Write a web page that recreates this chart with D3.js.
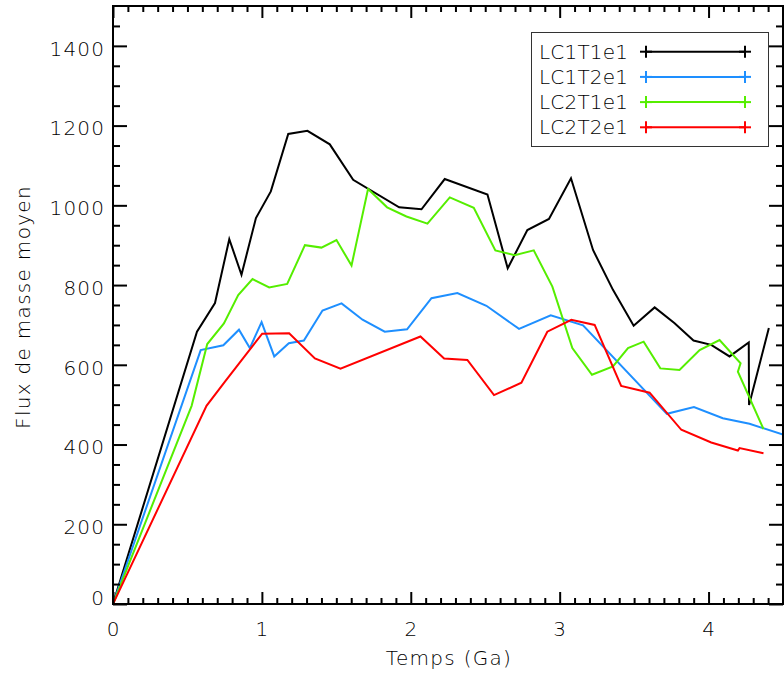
<!DOCTYPE html>
<html><head><meta charset="utf-8">
<script src="https://cdn.jsdelivr.net/npm/d3@7"></script>
<style>
html,body{margin:0;padding:0;background:#fff;}
text{font-family:"DejaVu Sans",sans-serif;fill:#000;font-weight:300;}
</style></head>
<body><svg id="c" width="784" height="675"></svg>
<script>
// ---- data ----
const seriesNames = ["LC1T1e1","LC1T2e1","LC2T1e1","LC2T2e1"];
const seriesColors = ["#000000","#1e8fff","#55ee00","#ff0000"];

const timeLC1T1e1 = [0,0.564,0.685,0.781,0.863,0.960,1.060,1.177,1.306,1.456,1.613,1.922,2.072,2.228,2.515,2.651,2.783,2.928,3.076,3.224,3.358,3.497,3.638,3.772,3.899,4.018,4.141,4.270,4.272,4.405];
const fluxLC1T1e1 = [0,683,755,915,826,968,1035,1179,1187,1153,1064,995,990,1066,1027,842,938,966,1068,888,788,698,744,704,661,650,621,656,499,692];

const timeLC1T2e1 = [0,0.589,0.741,0.846,0.919,0.998,1.083,1.181,1.282,1.407,1.535,1.676,1.825,1.975,2.139,2.313,2.508,2.727,2.940,3.157,3.720,3.902,4.096,4.275,4.5];
const fluxLC1T2e1 = [0,637,649,688,642,707,621,654,661,736,754,713,683,689,767,780,748,690,724,699,477,494,466,452,425];

const timeLC2T1e1 = [0,0.528,0.633,0.745,0.841,0.937,1.049,1.170,1.289,1.400,1.501,1.602,1.713,1.841,1.971,2.112,2.262,2.423,2.568,2.698,2.826,2.951,3.085,3.217,3.358,3.459,3.564,3.676,3.805,3.940,4.074,4.215,4.197,4.369];
const fluxLC2T1e1 = [0,497,652,704,775,815,794,803,900,894,913,849,1041,995,972,954,1020,994,887,875,887,796,642,575,596,642,658,591,587,637,662,604,583,439];

const timeLC2T2e1 = [0,0.628,0.752,0.864,1.002,1.183,1.356,1.528,2.065,2.224,2.380,2.559,2.743,2.917,3.078,3.235,3.413,3.604,3.817,4.018,4.197,4.208,4.369];
const fluxLC2T2e1 = [0,497,558,612,678,679,616,590,671,616,612,524,555,683,713,700,547,530,437,405,385,391,378];

const xMajorTicks = [0,1,2,3,4];
const yMajorTicks = [0,200,400,600,800,1000,1200,1400];
const xTitle = "Temps (Ga)";
const yTitle = "Flux de masse moyen";

// ---- layout ----
const svg = d3.select("#c");
const L = 113, R = 783, T = 6, B = 604;
const x = d3.scaleLinear().domain([0,4.5]).range([L,R]);
const y = d3.scaleLinear().domain([0,1500]).range([B,T]);

const series = [
  {t:timeLC1T1e1, v:fluxLC1T1e1},
  {t:timeLC1T2e1, v:fluxLC1T2e1},
  {t:timeLC2T1e1, v:fluxLC2T1e1},
  {t:timeLC2T2e1, v:fluxLC2T2e1}
];

svg.append("defs").append("clipPath").attr("id","clip")
  .append("rect").attr("x",L).attr("y",T).attr("width",R-L).attr("height",B-T);

const line = d3.line().x(d=>x(d[0])).y(d=>y(d[1]));
const g = svg.append("g").attr("clip-path","url(#clip)");
series.forEach((s,i)=>{
  g.append("path").datum(s.t.map((t,k)=>[t,s.v[k]]))
   .attr("d",line).attr("fill","none")
   .attr("stroke",seriesColors[i]).attr("stroke-width",2)
   .attr("stroke-linejoin","miter");
});

// ---- axes (IDL-style box with inward ticks) ----
const xMinor = d3.range(0,45).map(k=>k/10).filter(v=>Math.abs(v-Math.round(v))>1e-6);
const yMinor = d3.range(0,1500,50).filter(v=>v%200!==0);

function addAxis(axisFn, pos, ticks, size){
  const horiz = (axisFn===d3.axisBottom||axisFn===d3.axisTop);
  const sc = horiz ? x : y;
  svg.append("g").attr("transform", horiz ? `translate(0,${pos})` : `translate(${pos},0)`)
    .call(axisFn(sc).tickValues(ticks).tickSizeInner(-size).tickSizeOuter(0).tickFormat(""))
    .call(a=>a.select(".domain").remove());
}
addAxis(d3.axisBottom, B, xMajorTicks, 12);
addAxis(d3.axisBottom, B, xMinor, 6);
addAxis(d3.axisTop, T, xMajorTicks, 12);
addAxis(d3.axisTop, T, xMinor, 6);
addAxis(d3.axisLeft, L, yMajorTicks, 14);
addAxis(d3.axisLeft, L, yMinor, 7);
addAxis(d3.axisRight, R, yMajorTicks, 14);
addAxis(d3.axisRight, R, yMinor, 7);
svg.selectAll(".tick line").attr("stroke","#000").attr("stroke-width",2);

// frame
svg.append("rect").attr("x",L).attr("y",T).attr("width",R-L).attr("height",B-T)
  .attr("fill","none").attr("stroke","#000").attr("stroke-width",2);

// tick labels
const LS = 1.2;
svg.append("g").selectAll("text").data(xMajorTicks).join("text")
  .attr("x",d=>x(d)+LS/2).attr("y",636).attr("text-anchor","middle")
  .attr("font-size",20).attr("letter-spacing",LS).text(d=>d);
svg.append("g").selectAll("text").data(yMajorTicks).join("text")
  .attr("x",104+LS).attr("y",d=>d===0?605:y(d)+9.8).attr("text-anchor","end")
  .attr("font-size",20).attr("letter-spacing",LS).text(d=>d);

// titles
svg.append("text").attr("x",(L+R)/2+1).attr("y",665).attr("text-anchor","middle")
  .attr("font-size",20).attr("letter-spacing",1.3).text(xTitle);
svg.append("text").attr("transform","translate(30,307) rotate(-90)").attr("text-anchor","middle")
  .attr("font-size",20).attr("letter-spacing",1.3).text(yTitle);

// legend
const lg = svg.append("g");
lg.append("rect").attr("x",531.5).attr("y",32.5).attr("width",237).attr("height",114)
  .attr("fill","#fff").attr("stroke","#333").attr("stroke-width",1);
seriesNames.forEach((n,i)=>{
  const cy = 51.7 + i*25.2;
  lg.append("text").attr("x",539).attr("y",cy+6.8).attr("font-size",20)
    .attr("letter-spacing",0.2).text(n);
  lg.append("line").attr("x1",646).attr("x2",745).attr("y1",cy).attr("y2",cy)
    .attr("stroke",seriesColors[i]).attr("stroke-width",2);
  [646,745].forEach(px=>{
    lg.append("line").attr("x1",px-6).attr("x2",px+6).attr("y1",cy).attr("y2",cy)
      .attr("stroke",seriesColors[i]).attr("stroke-width",2);
    lg.append("line").attr("x1",px).attr("x2",px).attr("y1",cy-6).attr("y2",cy+6)
      .attr("stroke",seriesColors[i]).attr("stroke-width",2);
  });
});
</script></body></html>
